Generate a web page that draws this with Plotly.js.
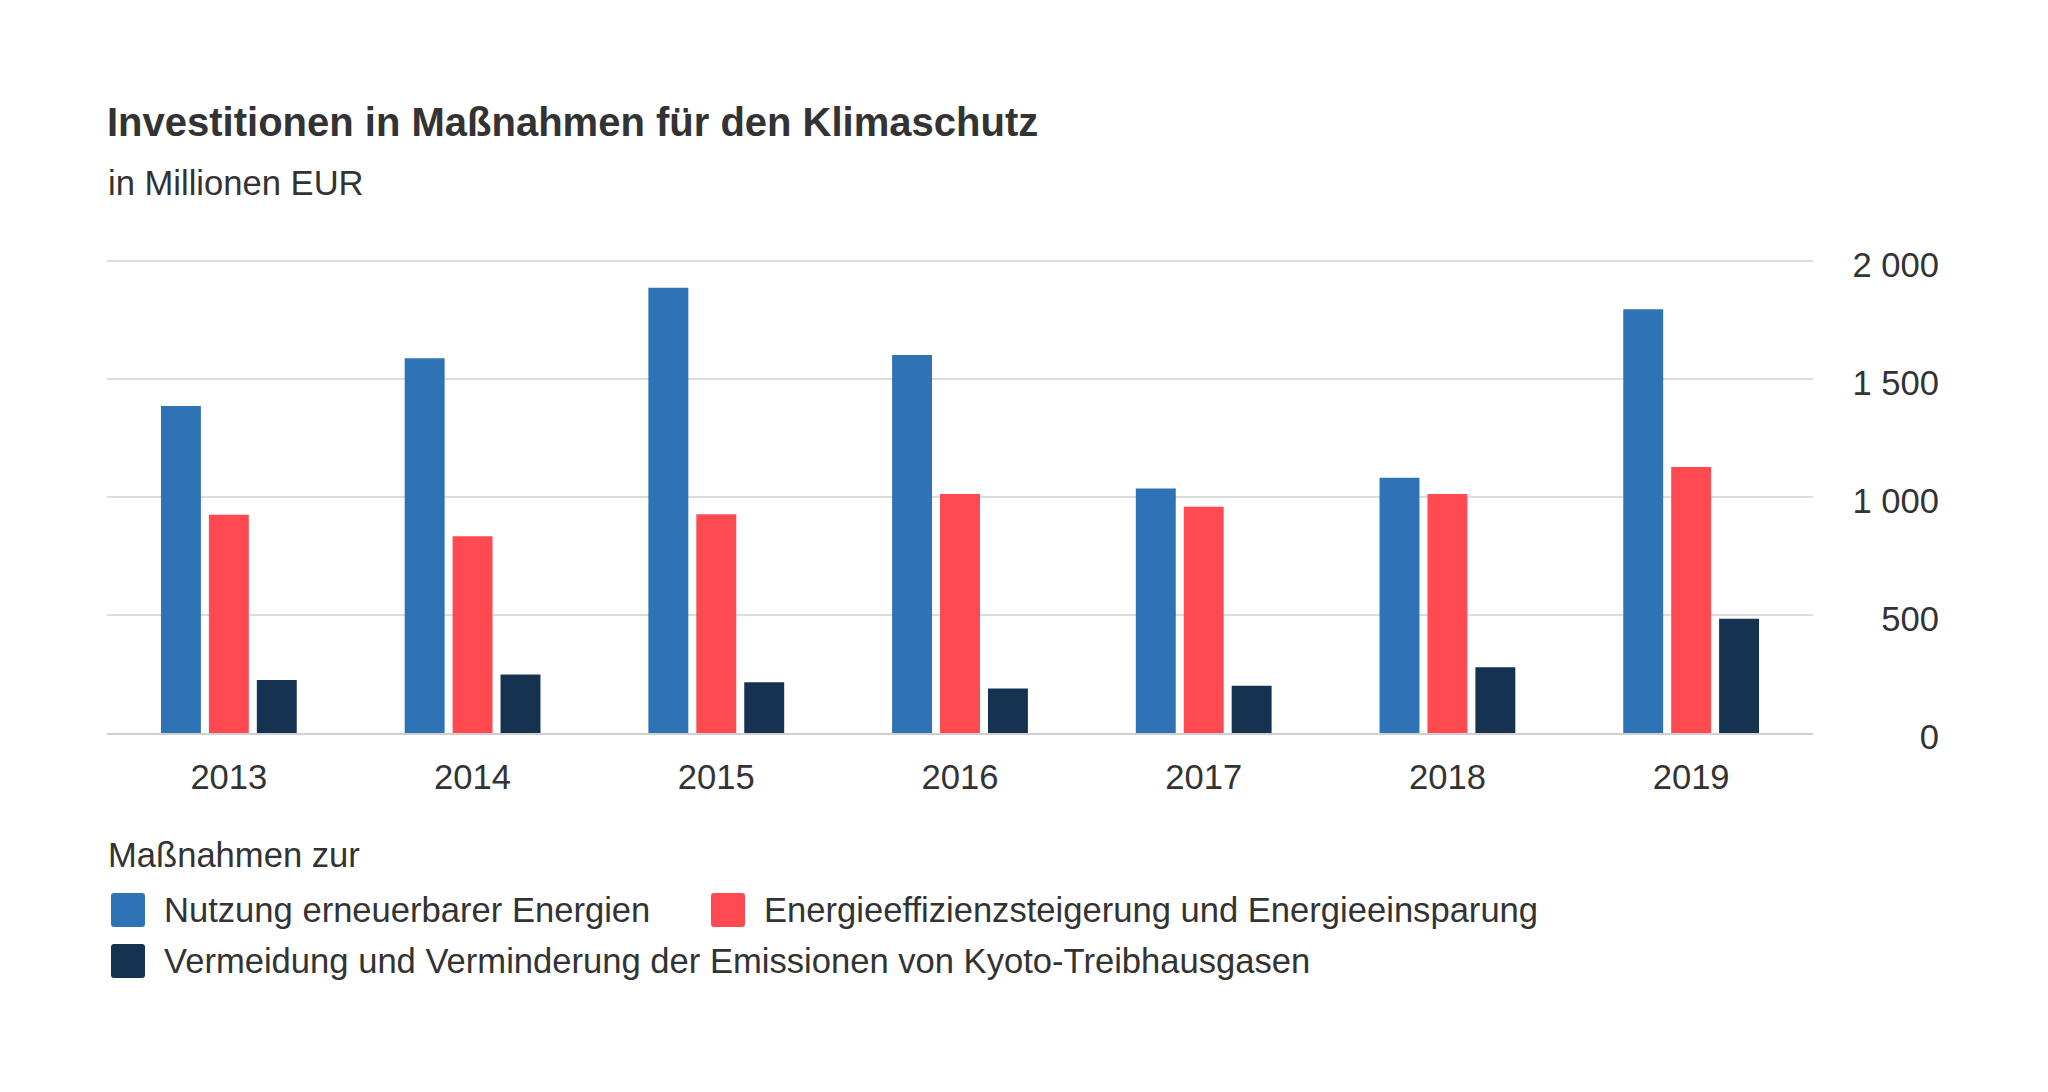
<!DOCTYPE html>
<html>
<head>
<meta charset="utf-8">
<script src="https://cdn.plot.ly/plotly-3.0.1.min.js"></script>
<style>
  html, body { margin: 0; padding: 0; background: #ffffff; }
  #chart { width: 2048px; height: 1092px; }
</style>
</head>
<body>
<div id="chart"></div>
<script>
// Investitionen in Maßnahmen für den Klimaschutz, in Millionen EUR
const years = ['2013', '2014', '2015', '2016', '2017', '2018', '2019'];
const erneuerbar = [1385, 1588, 1886, 1601, 1036, 1081, 1795];
const effizienz = [925, 833, 927, 1013, 958, 1013, 1127];
const kyoto = [224, 248, 215, 189, 200, 279, 484];

const seriesNames = [
  'Nutzung erneuerbarer Energien',
  'Energieeffizienzsteigerung und Energieeinsparung',
  'Vermeidung und Verminderung der Emissionen von Kyoto-Treibhausgasen'
];
const seriesColors = ['#2e73b5', '#fe4a50', '#163251'];
const legendTitle = 'Maßnahmen zur';
const yTicks = [0, 500, 1000, 1500, 2000];

const FONT = 'Liberation Sans, Arial, Helvetica, sans-serif';
const TEXT = '#333333';

// page geometry (pixels)
const W = 2048, H = 1092;
const M = { l: 107, r: 109, t: 259, b: 359 };
const plotRight = 1813;
const paperW = W - M.l - M.r;
const paperH = H - M.t - M.b;
const px = x => (x - M.l) / paperW;
const py = y => (H - M.b - y) / paperH;

const traces = [erneuerbar, effizienz, kyoto].map((vals, i) => ({
  type: 'bar',
  name: seriesNames[i],
  x: years,
  y: vals,
  marker: { color: seriesColors[i], line: { width: 0 } },
  hoverinfo: 'x+y+name',
  showlegend: false
}));

// legend keys: rounded squares with labels
const swatch = 'M-14,-17 L14,-17 Q17,-17 17,-14 L17,14 Q17,17 14,17 L-14,17 Q-17,17 -17,14 L-17,-14 Q-17,-17 -14,-17 Z';
const keyPos = [
  { sx: 128, tx: 162, y: 910 },
  { sx: 728, tx: 762, y: 910 },
  { sx: 128, tx: 162, y: 961 }
];
const shapes = keyPos.map((p, i) => ({
  type: 'path',
  xref: 'paper', yref: 'paper',
  xsizemode: 'pixel', ysizemode: 'pixel',
  xanchor: px(p.sx), yanchor: py(p.y),
  path: swatch,
  fillcolor: seriesColors[i],
  line: { width: 0 }
}));

const annotations = [
  {
    text: 'in Millionen EUR',
    xref: 'paper', yref: 'paper',
    x: px(106), y: py(183),
    xanchor: 'left', yanchor: 'middle',
    showarrow: false,
    font: { family: FONT, size: 34.6, color: TEXT }
  },
  {
    text: legendTitle,
    xref: 'paper', yref: 'paper',
    x: px(106), y: py(855),
    xanchor: 'left', yanchor: 'middle',
    showarrow: false,
    font: { family: FONT, size: 34.6, color: TEXT }
  }
].concat(keyPos.map((p, i) => ({
  text: seriesNames[i],
  xref: 'paper', yref: 'paper',
  x: px(p.tx), y: py(p.y),
  xanchor: 'left', yanchor: 'middle',
  showarrow: false,
  font: { family: FONT, size: 34.6, color: TEXT }
})));

const layout = {
  width: W,
  height: H,
  margin: M,
  paper_bgcolor: '#ffffff',
  plot_bgcolor: '#ffffff',
  separators: ', ',
  font: { family: FONT, size: 34.6, color: TEXT },
  title: {
    text: 'Investitionen in Maßnahmen für den Klimaschutz',
    font: { family: FONT, size: 40, color: TEXT, weight: 'bold' },
    xref: 'paper', x: 0, xanchor: 'left',
    yref: 'container', y: 1 - 122 / H, yanchor: 'middle'
  },
  barmode: 'group',
  bargap: 0.41,
  bargroupgap: 0.167,
  xaxis: {
    type: 'category',
    domain: [0, px(plotRight)],
    showgrid: false,
    showline: true,
    linecolor: '#cfcfcf',
    linewidth: 1.5,
    ticks: '',
    ticklabelstandoff: 13,
    tickfont: { family: FONT, size: 34.6, color: TEXT },
    fixedrange: true,
    automargin: false
  },
  yaxis: {
    // top kept a touch above 2000 so that gridline stays visible
    range: [0, 2008],
    tickvals: yTicks,
    anchor: 'free',
    position: 1,
    side: 'left',
    separatethousands: true,
    showgrid: true,
    gridcolor: '#dcdcdc',
    gridwidth: 1.5,
    zeroline: false,
    showline: false,
    ticks: '',
    ticklabelstandoff: 0,
    ticklabelshift: 4,
    tickfont: { family: FONT, size: 34.6, color: TEXT },
    fixedrange: true,
    automargin: false
  },
  shapes: shapes,
  annotations: annotations,
  showlegend: false
};

Plotly.newPlot('chart', traces, layout, { displayModeBar: false, staticPlot: true });
</script>
</body>
</html>
